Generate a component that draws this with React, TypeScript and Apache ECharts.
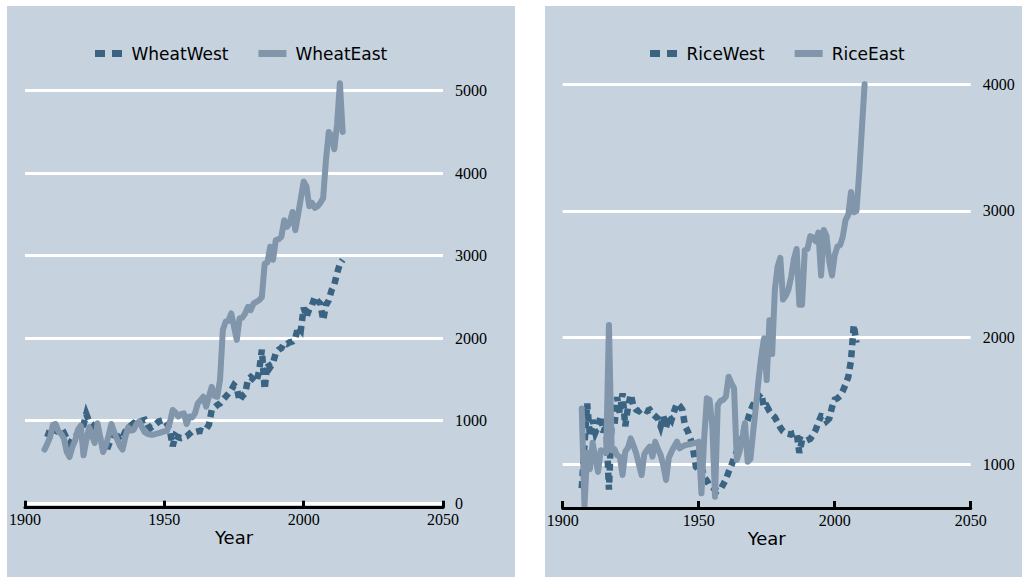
import React, { useEffect, useRef } from "react";
import * as echarts from "echarts";

// ---------- data ----------
const wheatYears = [
  1907, 1908, 1909, 1910, 1911, 1912, 1913, 1914, 1915, 1916,
  1917, 1918, 1919, 1920, 1921, 1922, 1923, 1924, 1925, 1926,
  1927, 1928, 1929, 1930, 1931, 1932, 1933, 1934, 1935, 1936,
  1937, 1938, 1939, 1940, 1941, 1942, 1943, 1944, 1945, 1946,
  1947, 1948, 1949, 1950, 1951, 1952, 1953, 1954, 1955, 1956,
  1957, 1958, 1959, 1960, 1961, 1962, 1963, 1964, 1965, 1966,
  1967, 1968, 1969, 1970, 1971, 1972, 1973, 1974, 1975, 1976,
  1977, 1978, 1979, 1980, 1981, 1982, 1983, 1984, 1985, 1986,
  1987, 1988, 1989, 1990, 1991, 1992, 1993, 1994, 1995, 1996,
  1997, 1998, 1999, 2000, 2001, 2002, 2003, 2004, 2005, 2006,
  2007, 2008, 2009, 2010, 2011, 2012, 2013, 2014,
];
const wheatWest: (number | null)[] = [
  null, 800, 890, 920, 880, 860, 830, 850, 780, 720,
  770, 800, 850, 900, 950, 1080, 990, 960, 850, 800,
  780, 700, 620, 700, 800, 880, 820, 760, 800, 870,
  900, 940, 970, 950, 980, 1000, 1010, 950, 910, 940,
  960, 990, 1000, 1010, 960, 880, 690, 820, 800, 790,
  800, 810, 840, 870, 860, 870, 880, 870, 900, 950,
  1130, 1160, 1190, 1210, 1250, 1290, 1330, 1370, 1430, 1400,
  1240, 1300, 1330, 1500, 1530, 1500, 1470, 1600, 1860, 1380,
  1700, 1650, 1700, 1820, 1860, 1880, 1940, 1930, 1950, 1960,
  2000, 2140, 2100, 2370, 2260, 2350, 2400, 2500, 2450, 2420,
  2220, 2400, 2460, 2580, 2650, 2790, 2900, 2950,
];
const wheatEast: (number | null)[] = [
  650, 720, 800, 950, 960, 870, 840, 780, 620, 560,
  680, 760, 890, 940, 580, 760, 920, 820, 730, 970,
  800, 620, 700, 820, 960, 860, 780, 700, 650, 800,
  920, 880, 890, 960, 990, 920, 860, 840, 830, 830,
  840, 850, 860, 870, 880, 980, 1130, 1100, 1050, 1080,
  1090, 960, 1050, 1040, 1090, 1210, 1250, 1290, 1170, 1290,
  1410, 1300, 1290, 1500, 2100, 2200, 2210, 2300, 2140, 1980,
  2240, 2250, 2300, 2380, 2340, 2420, 2440, 2460, 2500, 2900,
  2920, 3110, 2950, 3190, 3200, 3230, 3430, 3350, 3400, 3530,
  3310, 3500, 3700, 3900, 3840, 3600, 3640, 3580, 3600, 3640,
  3700, 4160, 4500, 4450, 4290, 4600, 5090, 4500,
];

const riceYears = [
  1907, 1908, 1909, 1910, 1911, 1912, 1913, 1914, 1915, 1916,
  1917, 1918, 1919, 1920, 1921, 1922, 1923, 1924, 1925, 1926,
  1927, 1928, 1929, 1930, 1931, 1932, 1933, 1934, 1935, 1936,
  1937, 1938, 1939, 1940, 1941, 1942, 1943, 1944, 1945, 1946,
  1947, 1948, 1949, 1950, 1951, 1952, 1953, 1954, 1955, 1956,
  1957, 1958, 1959, 1960, 1961, 1962, 1963, 1964, 1965, 1966,
  1967, 1968, 1969, 1970, 1971, 1972, 1973, 1974, 1975, 1976,
  1977, 1978, 1979, 1980, 1981, 1982, 1983, 1984, 1985, 1986,
  1987, 1988, 1989, 1990, 1991, 1992, 1993, 1994, 1995, 1996,
  1997, 1998, 1999, 2000, 2001, 2002, 2003, 2004, 2005, 2006,
  2007, 2008, 2009, 2010, 2011,
];
const riceWest: (number | null)[] = [
  810, 1150, 1480, 1220, 1350, 1250, 1300, 1380, 1250, 1320,
  800, 1350, 1300, 1530, 1400, 1560, 1300, 1450, 1550, 1460,
  1430, 1420, 1440, 1430, 1420, 1430, 1400, 1380, 1360, 1300,
  1380, 1290, 1380, 1350, 1420, 1480, 1460, 1430, 1300, 1260,
  1200, 1110, 980, 960, 980, 900, 870, 830, 820, 800,
  790, 800, 840, 880, 940, 990, 1050, 1100, 1150, 1200,
  1300, 1350, 1420, 1470, 1500, 1540, 1560, 1450, 1460, 1420,
  1390, 1370, 1330, 1290, 1260, 1245, 1240, 1235, 1245, 1250,
  1090, 1190, 1180, 1190, 1200, 1230, 1270, 1330, 1380, 1376,
  1340, 1360, 1450, 1510, 1520, 1540, 1580, 1630, 1690, 1820,
  2100, 1960, null, null, null,
];
const riceEast: (number | null)[] = [
  1440, 670, 1090, 960, 1170, 1050, 940, 1110, 1100, 1090,
  2100, 1110, 1120, 1070, 1060, 915, 1100, 1130, 1205, 1150,
  1087, 1000, 915, 1080, 1113, 1139, 1060, 1178, 1120, 1073,
  990, 876, 1050, 1099, 1140, 1178, 1126, 1140, 1150, 1155,
  1160, 1165, 1170, 1178, 771, 1200, 1521, 1508, 1300, 744,
  1468, 1500, 1508, 1534, 1691, 1640, 1600, 1034, 1100, 1200,
  1326, 1020, 1040, 1250, 1450, 1665, 1850, 1994, 1665, 2136,
  1870, 2380, 2560, 2630, 2300, 2330, 2380, 2480, 2620, 2700,
  2260, 2260, 2690, 2700, 2800, 2790, 2760, 2830, 2490, 2850,
  2800, 2600, 2490, 2650, 2720, 2730, 2800, 2930, 2970, 3150,
  2990, 3000, 3300, 3650, 4000,
];

const xTicks = [1900, 1950, 2000, 2050];
const wheatYTicks = [0, 1000, 2000, 3000, 4000, 5000];
const riceYTicks = [1000, 2000, 3000, 4000];

// ---------- styles ----------
const DARK = "#3b6482";
const LIGHT = "#8195ab";
const BG = "#c6d3df";
const SANS = "DejaVu Sans";
const SERIF = "Liberation Serif";
const DASH_ICON = "path://M0,0h10v7h-10z M17,0h10v7h-10z";

const pairs = (years: number[], vals: (number | null)[]) =>
  years
    .map((y, i) => [y, vals[i]] as [number, number | null])
    .filter((p) => p[1] !== null);

function xAxisFor(gridIndex: number) {
  return {
    gridIndex,
    type: "value",
    z: 5,
    min: xTicks[0],
    max: xTicks[xTicks.length - 1],
    interval: xTicks[1] - xTicks[0],
    position: "bottom",
    offset: 4.5,
    axisLine: { onZero: false, lineStyle: { color: "#000", width: 3 } },
    axisTick: { inside: true, length: 7, lineStyle: { color: "#000", width: 3 } },
    axisLabel: {
      color: "#000",
      fontFamily: SERIF,
      fontSize: 16,
      margin: 4,
      formatter: (v: number) => String(v),
    },
    splitLine: { show: false },
    name: "Year",
    nameLocation: "middle",
    nameGap: 21,
    nameMoveOverlap: false,
    nameTextStyle: { fontFamily: SANS, fontSize: 18, color: "#000" },
  };
}

function gridSeries(xi: number, ticks: number[]) {
  return {
    type: "line",
    name: "grid" + xi,
    xAxisIndex: xi,
    yAxisIndex: xi,
    data: [],
    z: 1,
    silent: true,
    markLine: {
      silent: true,
      symbol: "none",
      z: 1,
      animation: false,
      lineStyle: { color: "#ffffff", width: 3, type: "solid" },
      label: {
        show: true,
        position: "end",
        distance: 12,
        formatter: "{b}",
        color: "#000",
        fontFamily: SERIF,
        fontSize: 16,
      },
      emphasis: { disabled: true },
      data: ticks.map((v) => ({ yAxis: v, name: String(v) })),
    },
  };
}

function lineSeries(name: string, xi: number, data: any[], dashed: boolean) {
  return {
    type: "line",
    name,
    xAxisIndex: xi,
    yAxisIndex: xi,
    data,
    symbol: "none",
    showSymbol: false,
    clip: false,
    z: 3,
    itemStyle: { color: dashed ? DARK : LIGHT },
    lineStyle: dashed
      ? { color: DARK, width: 6.5, type: [7, 5], cap: "butt", join: "miter" }
      : { color: LIGHT, width: 6, type: "solid", cap: "round", join: "round" },
    emphasis: { disabled: true },
  };
}

export default function App() {
  const ref = useRef<HTMLDivElement>(null);
  useEffect(() => {
    if (!ref.current) return;
    const chart = echarts.init(ref.current, null, { renderer: "svg", width: 1029, height: 578 });
    const legendText = { fontFamily: SANS, fontSize: 17, color: "#000", padding: [0, 0, 0, 4] };
    const legendBase = {
      top: 40,
      itemWidth: 28,
      itemHeight: 7,
      itemGap: 30,
      textStyle: legendText,
      selectedMode: false,
    };
    const option: any = {
      animation: false,
      backgroundColor: "#ffffff",
      graphic: [
        { type: "rect", z: -10, silent: true, shape: { x: 7, y: 6, width: 508, height: 571 }, style: { fill: BG } },
        { type: "rect", z: -10, silent: true, shape: { x: 545, y: 6, width: 477, height: 571 }, style: { fill: BG } },
      ],
      legend: [
        {
          ...legendBase,
          left: 90,
          data: [
            { name: "WheatWest", icon: DASH_ICON },
            { name: "WheatEast", icon: "rect" },
          ],
        },
        {
          ...legendBase,
          left: 645,
          data: [
            { name: "RiceWest", icon: DASH_ICON },
            { name: "RiceEast", icon: "rect" },
          ],
        },
      ],
      grid: [
        { left: 25, top: 90.7, width: 418, height: 412.5 },
        { left: 562.7, top: 84.3, width: 408, height: 419.2 },
      ],
      xAxis: [xAxisFor(0), xAxisFor(1)],
      yAxis: [
        { gridIndex: 0, type: "value", min: wheatYTicks[0], max: wheatYTicks[wheatYTicks.length - 1], show: false },
        { gridIndex: 1, type: "value", min: 690, max: riceYTicks[riceYTicks.length - 1], show: false },
      ],
      series: [
        gridSeries(0, wheatYTicks),
        gridSeries(1, riceYTicks),
        lineSeries("WheatWest", 0, pairs(wheatYears, wheatWest), true),
        lineSeries("WheatEast", 0, pairs(wheatYears, wheatEast), false),
        lineSeries("RiceWest", 1, pairs(riceYears, riceWest), true),
        lineSeries("RiceEast", 1, pairs(riceYears, riceEast), false),
      ],
    };
    chart.setOption(option);
    return () => chart.dispose();
  }, []);
  return (
    <div
      ref={ref}
      style={{ position: "fixed", left: 0, top: 0, width: 1029, height: 578, background: "#fff" }}
    />
  );
}
